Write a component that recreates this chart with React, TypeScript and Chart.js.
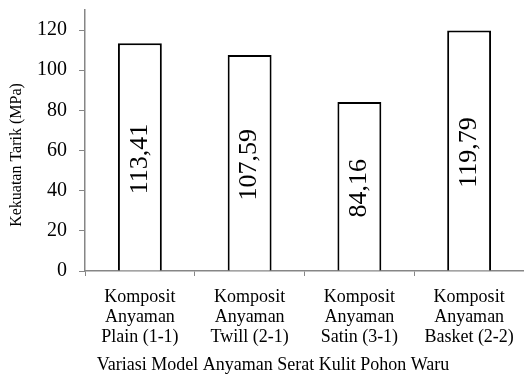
import React, { useEffect, useRef } from 'react';
import { Chart, registerables } from 'chart.js';

Chart.register(...registerables);

// Tensile strength of woven waru bark fibre composites
const categories: string[][] = [
  ['Komposit', 'Anyaman', 'Plain (1-1)'],
  ['Komposit', 'Anyaman', 'Twill (2-1)'],
  ['Komposit', 'Anyaman', 'Satin (3-1)'],
  ['Komposit', 'Anyaman', 'Basket (2-2)'],
];
const tensileStrength: number[] = [113.41, 107.59, 84.16, 119.79];
const yTickValues: number[] = [0, 20, 40, 60, 80, 100, 120];
const yAxisMax = 130;
const yTitle = 'Kekuatan Tarik (MPa)';
const xTitle = 'Variasi Model Anyaman Serat Kulit Pohon Waru';

const FONT = '"Liberation Serif", "Times New Roman", serif';
const AXIS_GREY = '#868686';

// Rotated value labels centred inside each bar
const valueLabels = {
  id: 'valueLabels',
  afterDatasetsDraw(chart: any) {
    const { ctx } = chart;
    const meta = chart.getDatasetMeta(0);
    ctx.save();
    ctx.font = `26px ${FONT}`;
    ctx.fillStyle = '#000';
    ctx.textAlign = 'center';
    ctx.textBaseline = 'middle';
    meta.data.forEach((bar: any, i: number) => {
      const { x, y, base } = bar.getProps(['x', 'y', 'base'], true);
      ctx.save();
      ctx.translate(x, (y + base) / 2 + 2);
      ctx.rotate(-Math.PI / 2);
      ctx.fillText(tensileStrength[i].toFixed(2).replace('.', ','), 0, 0);
      ctx.restore();
    });
    ctx.restore();
  },
};

// Axis titles
const axisTitles = {
  id: 'axisTitles',
  afterDraw(chart: any) {
    const { ctx } = chart;
    ctx.save();
    ctx.fillStyle = '#000';
    ctx.textAlign = 'center';
    ctx.textBaseline = 'middle';
    ctx.font = `16px ${FONT}`;
    ctx.save();
    ctx.translate(17, 155);
    ctx.rotate(-Math.PI / 2);
    ctx.fillText(yTitle, 0, 0);
    ctx.restore();
    ctx.font = `18px ${FONT}`;
    ctx.fillText(xTitle, 273, 365);
    ctx.restore();
  },
};

export default function App() {
  const canvasRef = useRef<HTMLCanvasElement | null>(null);

  useEffect(() => {
    if (!canvasRef.current) return;
    const chart = new Chart(canvasRef.current, {
      type: 'bar',
      data: {
        labels: categories,
        datasets: [
          {
            data: tensileStrength,
            backgroundColor: '#ffffff',
            borderColor: '#000000',
            borderWidth: 2,
            borderSkipped: 'start',
            categoryPercentage: 1,
            barPercentage: 0.4,
          },
        ],
      },
      options: {
        responsive: false,
        animation: false,
        devicePixelRatio: 1,
        layout: { padding: { top: 10, right: 0, bottom: 0, left: 0 } },
        plugins: {
          legend: { display: false },
          tooltip: { enabled: false },
        },
        scales: {
          x: {
            afterFit: (scale: any) => {
              scale.height = 103;
              scale.paddingLeft = 0;
              scale.paddingRight = 0;
            },
            grid: {
              display: true,
              drawOnChartArea: false,
              drawTicks: true,
              tickLength: 5,
              color: AXIS_GREY,
              offset: true,
            },
            border: { color: AXIS_GREY, width: 1.5 },
            ticks: {
              color: '#000',
              padding: 11,
              maxRotation: 0,
              autoSkip: false,
              font: { family: FONT, size: 18, lineHeight: '20px' },
            },
          },
          y: {
            min: 0,
            max: yAxisMax,
            afterFit: (scale: any) => {
              scale.width = 85;
              scale.paddingTop = 0;
              scale.paddingBottom = 0;
            },
            afterBuildTicks: (scale: any) => {
              scale.ticks = yTickValues.map((v) => ({ value: v }));
            },
            grid: {
              drawOnChartArea: false,
              drawTicks: true,
              tickLength: 6,
              color: AXIS_GREY,
            },
            border: { color: AXIS_GREY, width: 1.5 },
            ticks: {
              color: '#000',
              padding: 12,
              font: { family: FONT, size: 20 },
            },
          },
        },
      },
      plugins: [valueLabels, axisTitles],
    });
    return () => chart.destroy();
  }, []);

  return (
    <div style={{ position: 'absolute', left: 0, top: 0, width: 524, height: 374, background: '#fff' }}>
      <canvas ref={canvasRef} width={524} height={374} style={{ display: 'block' }} />
    </div>
  );
}
